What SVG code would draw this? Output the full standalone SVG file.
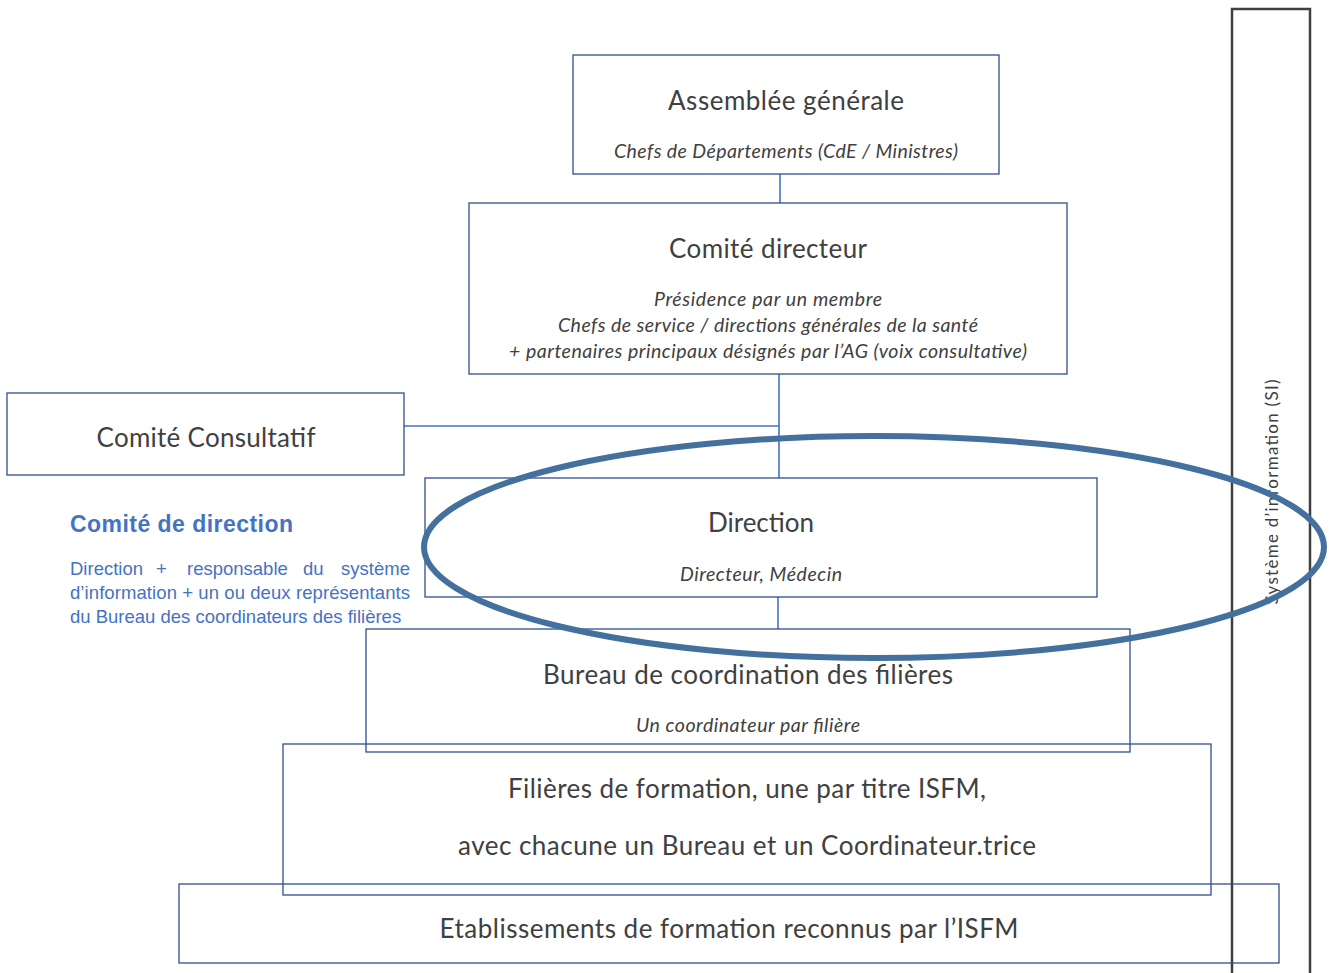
<svg xmlns="http://www.w3.org/2000/svg" width="1329" height="973" viewBox="0 0 1329 973">
<style>
.box{fill:none;stroke:#2F4E8E;stroke-width:1.3}
.t{font-family:Lato,"Open Sans",sans-serif;fill:#404040;text-anchor:middle}
.h{font-size:26px}
.i{font-size:19.5px;font-style:italic}
.conn line{stroke:#4472C4;stroke-width:1.6}
.blue{font-family:"Liberation Sans",Arial,sans-serif;fill:#4472C4}
</style>
<rect width="1329" height="973" fill="#fff"/>
<g id="si">
<rect x="1232" y="9" width="78" height="980" fill="none" stroke="#404040" stroke-width="2.5"/>
<text class="t" x="0" y="0" font-size="17" transform="translate(1278,492) rotate(-90)" textLength="225">Système d’information (SI)</text>
</g>
<g class="conn" id="connectors">
<line x1="780" y1="174" x2="780" y2="203"/>
<line x1="779" y1="374" x2="779" y2="478"/>
<line x1="404" y1="426" x2="779" y2="426"/>
<line x1="778" y1="597" x2="778" y2="629"/>
</g>
<g id="ag">
<rect class="box" x="573" y="55" width="426" height="119"/>
<text class="t h" x="786" y="110" textLength="236">Assemblée générale</text>
<text class="t i" x="786" y="158" textLength="344">Chefs de Départements (CdE / Ministres)</text>
</g>
<g id="cd">
<rect class="box" x="469" y="203" width="598" height="171"/>
<text class="t h" x="768" y="258" textLength="198">Comité directeur</text>
<text class="t i" x="768" y="306" textLength="228">Présidence par un membre</text>
<text class="t i" x="768" y="332" textLength="420">Chefs de service / directions générales de la santé</text>
<text class="t i" x="768" y="358" textLength="518">+ partenaires principaux désignés par l’AG (voix consultative)</text>
</g>
<g id="cc">
<rect class="box" x="7" y="393" width="397" height="82"/>
<text class="t h" x="206" y="447" textLength="219">Comité Consultatif</text>
</g>
<g id="codir">
<text class="blue" x="70" y="532" font-size="23" font-weight="bold" textLength="223">Comité de direction</text>
<g font-size="18.5">
<text class="blue" x="70" y="575">Direction</text>
<text class="blue" x="156" y="575">+</text>
<text class="blue" x="187" y="575">responsable</text>
<text class="blue" x="303" y="575">du</text>
<text class="blue" x="410" y="575" text-anchor="end">système</text>
<text class="blue" x="70" y="599" textLength="340">d’information + un ou deux représentants</text>
<text class="blue" x="70" y="623">du Bureau des coordinateurs des filières</text>
</g>
</g>
<g id="direction">
<rect class="box" x="425" y="478" width="672" height="119"/>
<text class="t h" x="761" y="532" textLength="106">Direction</text>
<text class="t i" x="761" y="581" textLength="162">Directeur, Médecin</text>
</g>
<g id="bureau">
<rect class="box" x="366" y="629" width="764" height="123"/>
<text class="t h" x="748" y="684" textLength="410">Bureau de coordination des filières</text>
<text class="t i" x="748" y="732" textLength="224">Un coordinateur par filière</text>
</g>
<g id="filieres">
<rect class="box" x="283" y="744" width="928" height="151"/>
<text class="t h" x="747" y="798" textLength="478">Filières de formation, une par titre ISFM,</text>
<text class="t h" x="747" y="855" fill="#595959" textLength="578">avec chacune un Bureau et un Coordinateur.trice</text>
</g>
<g id="etab">
<rect class="box" x="179" y="884" width="1100" height="79"/>
<text class="t h" x="729" y="938" textLength="579">Etablissements de formation reconnus par l’ISFM</text>
</g>
<g id="highlight">
<ellipse cx="874" cy="547" rx="450" ry="111" fill="none" stroke="#44709E" stroke-width="6"/>
</g>
</svg>
